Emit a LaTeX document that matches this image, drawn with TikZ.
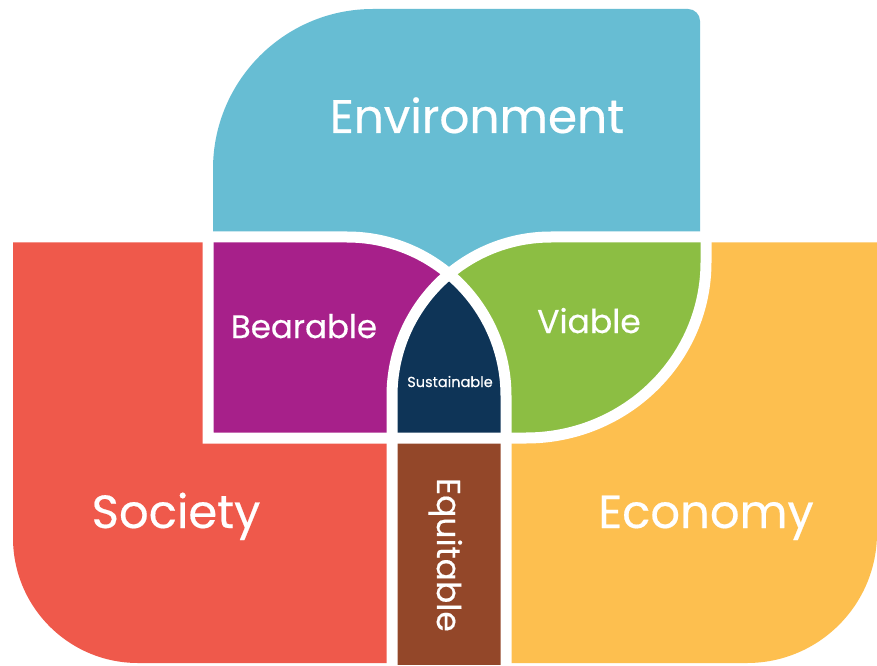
\documentclass[tikz,border=0pt]{standalone}
\usepackage{fontspec}
\setmainfont{Poppins}[FakeBold=0.4]
\definecolor{envblue}{HTML}{67BDD3}
\definecolor{bearpurple}{HTML}{A7208A}
\definecolor{viagreen}{HTML}{8CBE43}
\definecolor{susnavy}{HTML}{0E3457}
\definecolor{socred}{HTML}{EF594B}
\definecolor{ecoorange}{HTML}{FDBF4F}
\definecolor{equbrown}{HTML}{934729}
\begin{document}
\begin{tikzpicture}[x=1pt,y=1pt,
  sepline/.style={draw=white, line width=11pt},
  lbl/.style={text=white, inner sep=0pt, anchor=base}]
\useasboundingbox (0,0) rectangle (877,665);
\fill[white] (0,0) rectangle (877,665);
% Society
\fill[socred] (13,423) -- (392,423) -- (392,2) -- (138,2) arc[start angle=270,end angle=180,radius=125] -- cycle;
% Economy
\fill[ecoorange] (506,423) -- (877,423) -- (877,132) arc[start angle=0,end angle=-90,radius=130] -- (506,2) -- cycle;
% Equitable
\fill[equbrown] (392,0) rectangle (506,227);
% Environment
\fill[envblue] (213,365) -- (213,496) arc[start angle=180,end angle=90,radius=160] -- (688,656) arc[start angle=90,end angle=0,radius=12] -- (700,365) -- cycle;
% Bearable
\fill[bearpurple] (208,428) -- (347,428) arc[start angle=90,end angle=0,radius=159] -- (506,227) -- (208,227) -- cycle;
% Viable
\fill[viagreen] (706,428) -- (551,428) arc[start angle=90,end angle=180,radius=159] -- (392,227) -- (526,227) arc[start angle=270,end angle=360,x radius=180,y radius=176] -- cycle;
% Sustainable
\begin{scope}
\clip (347,269) circle[radius=159];
\clip (551,269) circle[radius=159];
\fill[susnavy] (392,227) rectangle (506,428);
\end{scope}
\fill[susnavy] (392,227) rectangle (506,269);
% white separators
\draw[sepline] (-5,428) -- (347,428) arc[start angle=90,end angle=0,radius=159] -- (506,-5);
\draw[sepline] (882,428) -- (551,428) arc[start angle=90,end angle=180,radius=159] -- (392,-5);
\draw[sepline] (208,428) -- (208,227) -- (526,227) arc[start angle=270,end angle=360,x radius=180,y radius=176] -- (706,428);
% labels
\node[lbl, font=\fontsize{47}{52}\selectfont] (env) at (477,532) {Environment};
\node[lbl, font=\fontsize{32.5}{38}\selectfont] (bear) at (304,327) {Bearable};
\node[lbl, font=\fontsize{33}{38}\selectfont] (via) at (589,332) {Viable};
\node[lbl, font=\fontsize{14.5}{17}\selectfont] (sus) at (450,278) {Sustainable};
\node[lbl, font=\fontsize{46.5}{52}\selectfont] (soc) at (176,137) {Society};
\node[lbl, font=\fontsize{46.5}{52}\selectfont] (eco) at (706,137) {Economy};
\node[lbl, font=\fontsize{33}{38}\selectfont, rotate=-90] (equ) at (437,110) {Equitable};
\end{tikzpicture}
\end{document}
